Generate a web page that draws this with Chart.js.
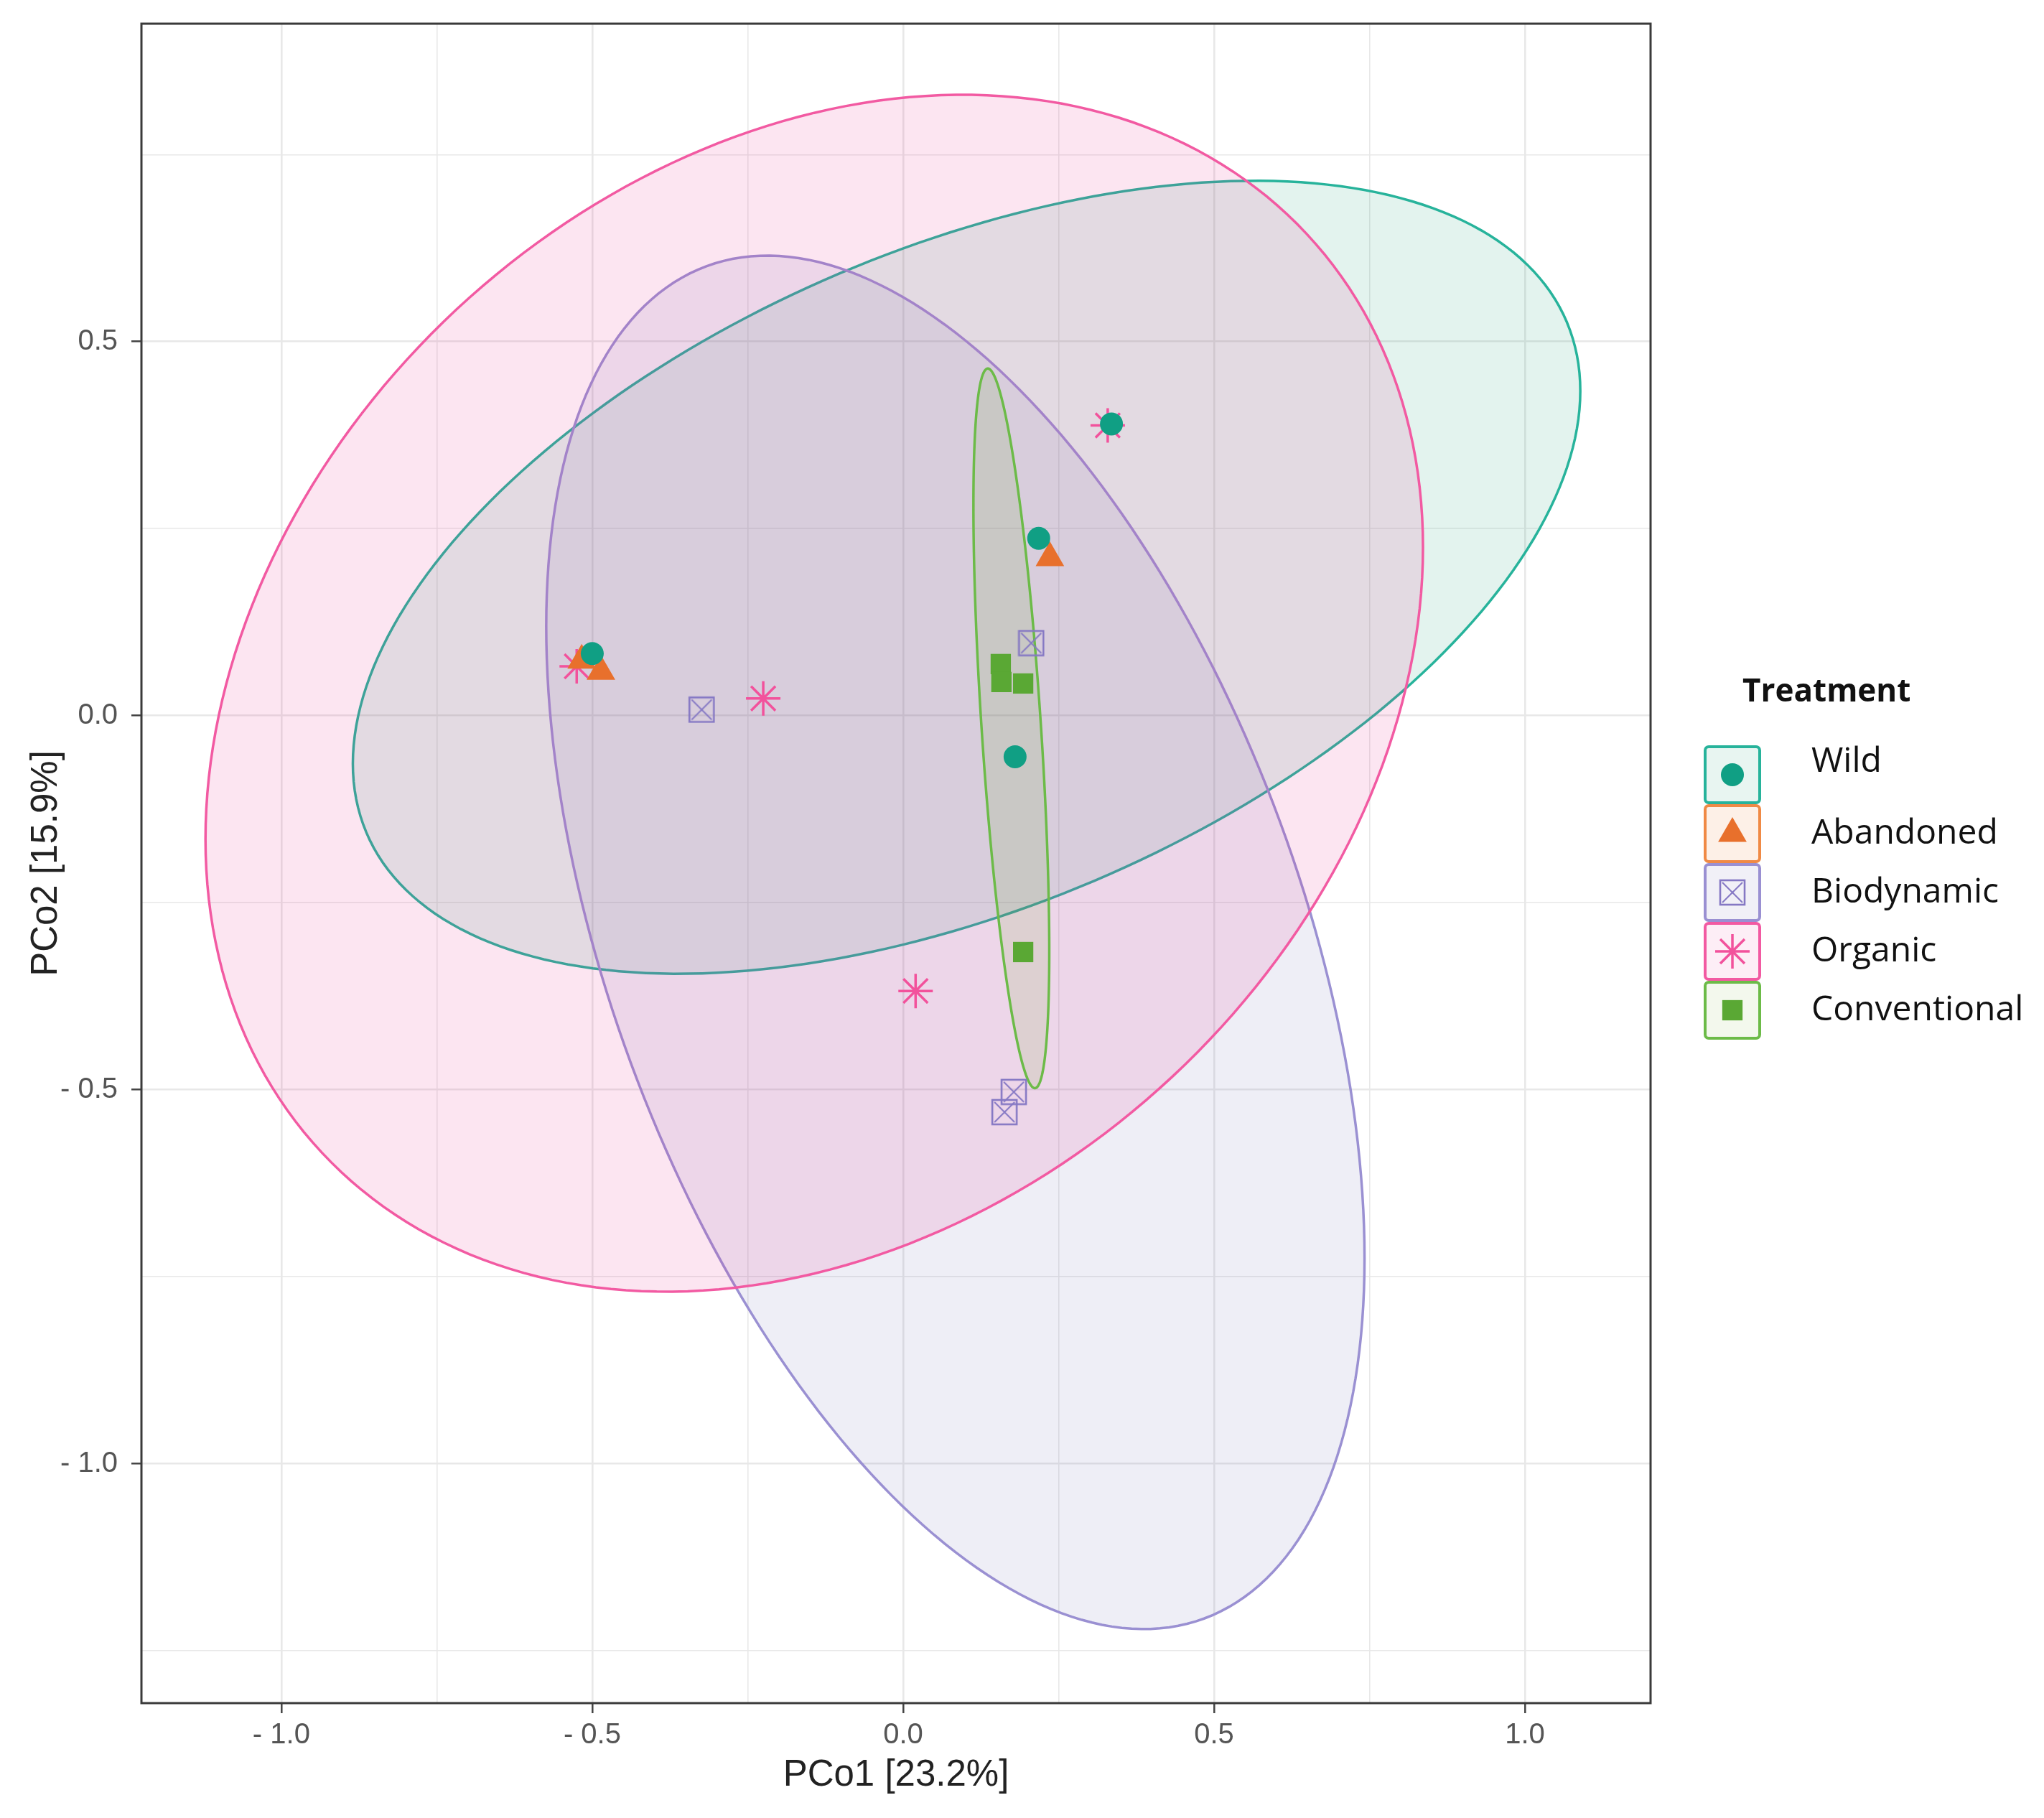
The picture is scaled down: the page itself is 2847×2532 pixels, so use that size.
<!DOCTYPE html>
<html>
<head>
<meta charset="utf-8">
<script src="https://cdn.jsdelivr.net/npm/chart.js@4.4.0/dist/chart.umd.min.js"></script>
<style>
body { margin: 0; background: #fff; }
#pcoa { display: block; }
</style>
</head>
<body>
<canvas id="pcoa" width="2847" height="2532"></canvas>
<script>
// samples
var groups = ['Wild', 'Abandoned', 'Biodynamic', 'Organic', 'Conventional'];

var wildX = [-0.500, 0.335, 0.218, 0.180];
var wildY = [0.083, 0.390, 0.237, -0.055];
var abandonedX = [-0.517, -0.486, 0.236];
var abandonedY = [0.074, 0.059, 0.211];
var biodynamicX = [-0.324, 0.206, 0.178, 0.163];
var biodynamicY = [0.008, 0.097, -0.503, -0.530];
var organicX = [-0.525, -0.225, 0.020, 0.329];
var organicY = [0.066, 0.023, -0.368, 0.388];
var conventionalX = [0.157, 0.158, 0.193, 0.193];
var conventionalY = [0.069, 0.045, 0.043, -0.316];

// confidence ellipses: centre, half extent along each axis, and x/y correlation
var ellipseGroups = ['Wild', 'Biodynamic', 'Organic', 'Conventional'];
var ellipseCenterX = [0.102, 0.084, -0.143, 0.174];
var ellipseCenterY = [0.185, -0.303, 0.030, -0.017];
var ellipseSpreadX = [0.987, 0.658, 0.979, 0.061];
var ellipseSpreadY = [0.530, 0.918, 0.800, 0.481];
var ellipseCorr = [0.47, -0.46, 0.244, -0.62];

var xTitle = 'PCo1 [23.2%]';
var yTitle = 'PCo2 [15.9%]';
var legendTitle = 'Treatment';

var colors = {
    Wild: { mark: '#109f84', line: '#27b39b', fill: 'rgba(27,158,119,0.12)', key: 'rgba(27,158,119,0.1)' },
    Abandoned: { mark: '#e8702c', line: '#f08a45', fill: 'rgba(217,95,2,0.12)', key: 'rgba(240,130,60,0.12)' },
    Biodynamic: { mark: '#8578c4', line: '#9a90d2', fill: 'rgba(117,112,179,0.12)', key: 'rgba(117,112,179,0.1)' },
    Organic: { mark: '#f2529c', line: '#f25aa2', fill: 'rgba(231,41,138,0.12)', key: 'rgba(231,41,138,0.08)' },
    Conventional: { mark: '#5aa834', line: '#6cbb48', fill: 'rgba(102,166,30,0.12)', key: 'rgba(102,166,30,0.08)' }
};

// boxed cross marker for Biodynamic
function boxCross(size, col) {
    var c = document.createElement('canvas');
    c.width = size; c.height = size;
    var g = c.getContext('2d');
    g.strokeStyle = col;
    g.lineWidth = 2.6;
    g.strokeRect(2, 2, size - 4, size - 4);
    g.lineWidth = 2;
    g.beginPath();
    g.moveTo(5, 5); g.lineTo(size - 5, size - 5);
    g.moveTo(size - 5, 5); g.lineTo(5, size - 5);
    g.stroke();
    return c;
}
var boxMark = boxCross(38, colors.Biodynamic.mark);

function pts(xs, ys) {
    return xs.map(function (x, i) { return { x: x, y: ys[i] }; });
}

var markStyle = {
    Wild: { pointStyle: 'circle', radius: 16, border: 0 },
    Abandoned: { pointStyle: 'triangle', radius: 23, border: 0 },
    Biodynamic: { pointStyle: boxMark, radius: 19, border: 0 },
    Organic: { pointStyle: 'star', radius: 24, border: 3.5 },
    Conventional: { pointStyle: 'rect', radius: 20, border: 0 }
};

function makeSet(name, xs, ys) {
    var s = markStyle[name];
    return {
        label: name,
        data: pts(xs, ys),
        pointStyle: s.pointStyle,
        pointRadius: s.radius,
        pointHoverRadius: s.radius,
        pointBorderWidth: s.border,
        backgroundColor: colors[name].mark,
        borderColor: colors[name].mark
    };
}

function isMajor(v) {
    return Math.abs(v * 2 - Math.round(v * 2)) < 1e-6;
}
function fmt(v) {
    if (!isMajor(v)) return '';
    var r = Math.round(v * 2) / 2;
    if (Math.abs(r) < 1e-9) return '0.0';
    return r < 0 ? '- ' + Math.abs(r).toFixed(1) : r.toFixed(1);
}

var ellipsePlugin = {
    id: 'ellipses',
    beforeDatasetsDraw: function (chart) {
        var ctx = chart.ctx, xs = chart.scales.x, ys = chart.scales.y;
        ctx.save();
        for (var g = 0; g < ellipseGroups.length; g++) {
            var r = ellipseCorr[g], q = Math.sqrt(1 - r * r);
            ctx.beginPath();
            for (var k = 0; k <= 240; k++) {
                var t = k / 240 * 2 * Math.PI;
                var dx = ellipseCenterX[g] + ellipseSpreadX[g] * Math.cos(t);
                var dy = ellipseCenterY[g] + ellipseSpreadY[g] * (r * Math.cos(t) + q * Math.sin(t));
                var px = xs.getPixelForValue(dx), py = ys.getPixelForValue(dy);
                if (k === 0) ctx.moveTo(px, py); else ctx.lineTo(px, py);
            }
            ctx.closePath();
            ctx.fillStyle = colors[ellipseGroups[g]].fill;
            ctx.fill();
            ctx.lineWidth = 3.5;
            ctx.strokeStyle = colors[ellipseGroups[g]].line;
            ctx.stroke();
        }
        ctx.restore();
    },
    afterDatasetsDraw: function (chart) {
        var a = chart.chartArea, ctx = chart.ctx;
        ctx.save();
        ctx.strokeStyle = '#3a3a3a';
        ctx.lineWidth = 3;
        ctx.strokeRect(a.left, a.top, a.right - a.left, a.bottom - a.top);
        ctx.restore();
    }
};

var legendPlugin = {
    id: 'keyBoxes',
    afterDraw: function (chart) {
        var ctx = chart.ctx;
        var left = chart.chartArea.right + 74;
        ctx.save();
        ctx.fillStyle = '#111';
        ctx.font = 'bold 44px "Open Sans"';
        ctx.textBaseline = 'middle';
        ctx.textAlign = 'left';
        ctx.fillText(legendTitle, left + 54, 964);
        for (var i = 0; i < groups.length; i++) {
            var name = groups[i];
            var top = 1038 + i * 82;
            var cx = left + 40, cy = top + 41;
            ctx.fillStyle = '#fff';
            ctx.fillRect(left, top, 80, 82);
            ctx.fillStyle = colors[name].key;
            ctx.strokeStyle = colors[name].line;
            ctx.lineWidth = 4;
            ctx.beginPath();
            ctx.roundRect(left + 2, top + 2, 76, 78, 5);
            ctx.fill();
            ctx.stroke();
            var s = markStyle[name];
            ctx.fillStyle = colors[name].mark;
            ctx.strokeStyle = colors[name].mark;
            ctx.lineWidth = s.border;
            Chart.helpers.drawPoint(ctx, {
                pointStyle: s.pointStyle,
                radius: s.radius,
                rotation: 0,
                borderWidth: s.border
            }, cx, cy);
            ctx.fillStyle = '#111';
            ctx.font = '48px "Open Sans"';
            ctx.fillText(name, left + 150, i === 0 ? cy - 18 : cy);
        }
        ctx.restore();
    }
};

var gridOpts = {
    color: '#e8e8e8',
    lineWidth: function (c) { return c.tick && isMajor(c.tick.value) ? 2.6 : 1.6; },
    tickColor: function (c) { return c.tick && isMajor(c.tick.value) ? '#444' : 'rgba(0,0,0,0)'; },
    tickLength: 14,
    tickWidth: 2.5
};

var chart = new Chart(document.getElementById('pcoa').getContext('2d'), {
    type: 'scatter',
    data: {
        datasets: [
            makeSet('Wild', wildX, wildY),
            makeSet('Abandoned', abandonedX, abandonedY),
            makeSet('Conventional', conventionalX, conventionalY),
            makeSet('Biodynamic', biodynamicX, biodynamicY),
            makeSet('Organic', organicX, organicY)
        ]
    },
    options: {
        responsive: false,
        devicePixelRatio: 1,
        animation: false,
        events: [],
        layout: { padding: { left: 0, top: 33, right: 548, bottom: 0 } },
        plugins: { legend: { display: false }, tooltip: { enabled: false } },
        scales: {
            x: {
                type: 'linear',
                min: -1.225,
                max: 1.202,
                border: { display: false },
                grid: gridOpts,
                ticks: {
                    stepSize: 0.25,
                    includeBounds: false,
                    autoSkip: false,
                    maxRotation: 0,
                    padding: 7,
                    color: '#555',
                    font: { family: 'Liberation Sans', size: 40 },
                    callback: fmt
                },
                title: {
                    display: true,
                    text: xTitle,
                    color: '#222',
                    font: { family: 'Liberation Sans', size: 51 },
                    padding: { top: 0, bottom: 28 }
                },
                afterFit: function (s) {
                    s.height = 160;
                    s.paddingLeft = 0;
                    s.paddingRight = 0;
                }
            },
            y: {
                type: 'linear',
                min: -1.32,
                max: 0.925,
                border: { display: false },
                grid: gridOpts,
                ticks: {
                    stepSize: 0.25,
                    includeBounds: false,
                    autoSkip: false,
                    padding: 19,
                    color: '#555',
                    font: { family: 'Liberation Sans', size: 40 },
                    callback: fmt
                },
                title: {
                    display: true,
                    text: yTitle,
                    color: '#222',
                    font: { family: 'Liberation Sans', size: 51 },
                    padding: { top: 34, bottom: 0 }
                },
                afterFit: function (s) {
                    s.width = 197;
                    s.paddingTop = 0;
                    s.paddingBottom = 0;
                }
            }
        }
    },
    plugins: [ellipsePlugin, legendPlugin]
});
</script>
</body>
</html>
